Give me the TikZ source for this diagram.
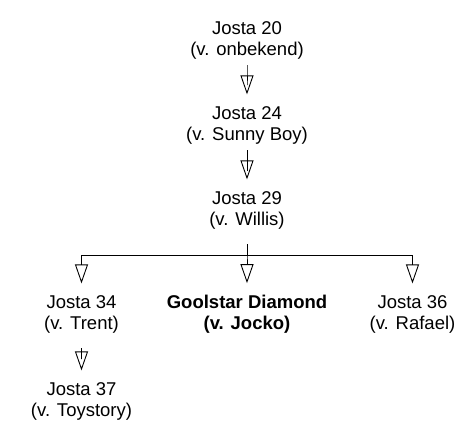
\documentclass[tikz,border=0pt]{standalone}
\usepackage{fontspec}
\setmainfont{Liberation Sans}
\usetikzlibrary{arrows.meta}

\begin{document}
\begin{tikzpicture}[
    horse/.style={align=center,inner sep=0pt,font=\fontsize{18.5}{21}\selectfont},
    edge from parent/.style={draw,line width=0.9pt,-{Triangle[open,length=19pt,width=13pt]},shorten <=6pt,shorten >=11.5pt},
    edge from parent path={(\tikzparentnode.south) -- ++(0,-26pt) -| (\tikzchildnode.north)},
    level distance=85pt,
    level 3/.style={sibling distance=165.5pt,level distance=104pt,edge from parent/.append style={shorten <=15pt}},
    level 4/.style={level distance=87pt}]
\node [horse] (j20) {Josta 20\\(v. onbekend)}
    child {
        node [horse] (j24) {Josta 24\\(v. Sunny Boy)}
        child {
            node [horse] (j29) {Josta 29\\(v. Willis)}
            child {
                node [horse] (j34) {Josta 34\\(v. Trent)}
                child {
                    node [horse] (j37) {Josta 37\\(v. Toystory)}
                }
            }
            child {
                node [horse,font=\fontsize{18.5}{21}\selectfont\bfseries] (goolstar) {Goolstar Diamond\\(v. Jocko)}
            }
            child {
                node [horse] (j36) {Josta 36\\(v. Rafael)}
            }
        }
    };
\useasboundingbox ([shift={(-247pt,40pt)}]j20.center) rectangle ([shift={(212pt,-382pt)}]j20.center);
\end{tikzpicture}
\end{document}
